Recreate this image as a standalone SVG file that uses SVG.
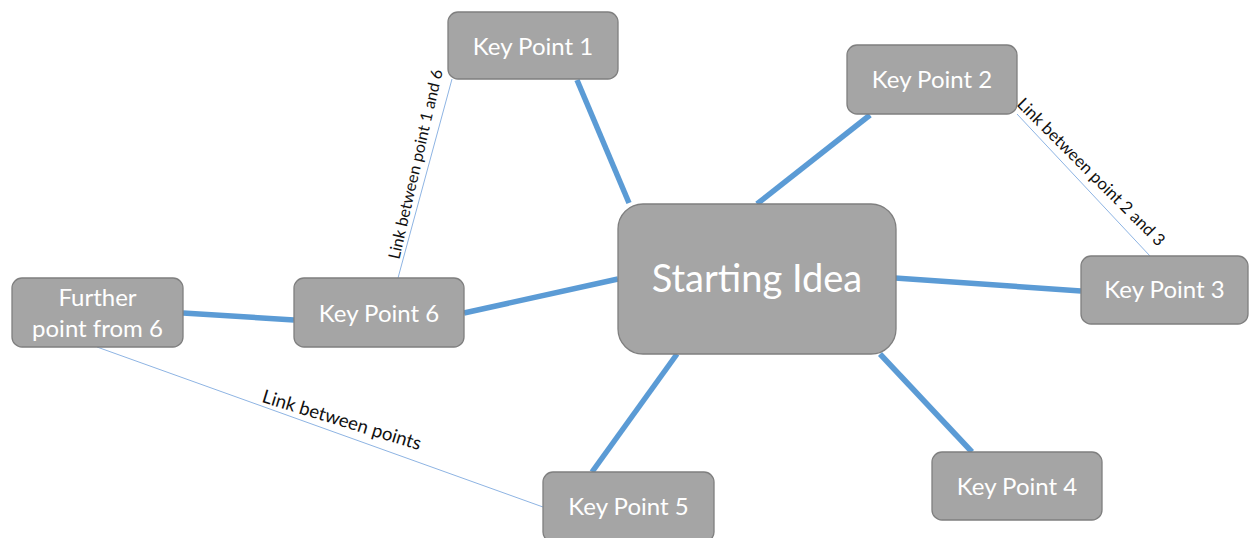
<svg xmlns="http://www.w3.org/2000/svg" width="1249" height="538" viewBox="0 0 1249 538">
  <style>
    .box { fill: #a5a5a5; stroke: #7f7f7f; stroke-width: 1.3; }
    .lbl { fill: #ffffff; font-family: Lato, "Liberation Sans", sans-serif; font-size: 24px; text-anchor: middle; }
    .big { font-size: 38px; }
    .main { stroke: #5b9bd5; stroke-width: 5.5; fill: none; }
    .link { stroke: #8eb4e3; stroke-width: 1; fill: none; }
    .note { fill: #111111; font-family: Lato, "Liberation Sans", sans-serif; font-size: 16.8px; text-anchor: middle; }
  </style>
  <rect width="1249" height="538" fill="#ffffff"/>

  <g id="connectors">
    <line class="main" x1="577" y1="80" x2="629" y2="203"/>
    <line class="main" x1="870" y1="115" x2="757" y2="204"/>
    <line class="main" x1="895" y1="278" x2="1081" y2="291"/>
    <line class="main" x1="880" y1="354" x2="972" y2="452"/>
    <line class="main" x1="677" y1="354" x2="592" y2="472"/>
    <line class="main" x1="618" y1="279" x2="464" y2="313"/>
    <line class="main" x1="294" y1="320" x2="183" y2="313"/>
    <line class="link" x1="452" y1="79" x2="398" y2="278"/>
    <line class="link" x1="1017" y1="114" x2="1150" y2="256"/>
    <line class="link" x1="97" y1="347" x2="543" y2="507"/>
    <text class="note" style="font-size:16.2px" transform="translate(421 165.5) rotate(-77)">Link between point 1 and 6</text>
    <text class="note" transform="translate(1087 176) rotate(45)">Link between point 2 and 3</text>
    <text class="note" style="font-size:18.6px" transform="translate(340 426) rotate(17)">Link between points</text>
  </g>

  <g id="starting-idea">
    <rect class="box" x="618" y="204" width="278" height="150" rx="25"/>
    <text class="lbl big" x="757" y="292">Starting Idea</text>
  </g>
  <g id="key-point-1">
    <rect class="box" x="448" y="12" width="170" height="67" rx="10"/>
    <text class="lbl" x="533" y="55">Key Point 1</text>
  </g>
  <g id="key-point-2">
    <rect class="box" x="847" y="45" width="170" height="69" rx="10"/>
    <text class="lbl" x="932" y="88">Key Point 2</text>
  </g>
  <g id="key-point-3">
    <rect class="box" x="1081" y="256" width="167" height="68" rx="10"/>
    <text class="lbl" x="1164.5" y="298">Key Point 3</text>
  </g>
  <g id="key-point-4">
    <rect class="box" x="932" y="452" width="170" height="68" rx="10"/>
    <text class="lbl" x="1017" y="495">Key Point 4</text>
  </g>
  <g id="key-point-5">
    <rect class="box" x="543" y="472" width="171" height="70" rx="10"/>
    <text class="lbl" x="628.5" y="515">Key Point 5</text>
  </g>
  <g id="key-point-6">
    <rect class="box" x="294" y="278" width="170" height="69" rx="10"/>
    <text class="lbl" x="379" y="322">Key Point 6</text>
  </g>
  <g id="further-point">
    <rect class="box" x="12" y="278" width="171" height="69" rx="10"/>
    <text class="lbl" x="97.5" y="306">Further</text>
    <text class="lbl" x="97.5" y="337">point from 6</text>
  </g>
</svg>
